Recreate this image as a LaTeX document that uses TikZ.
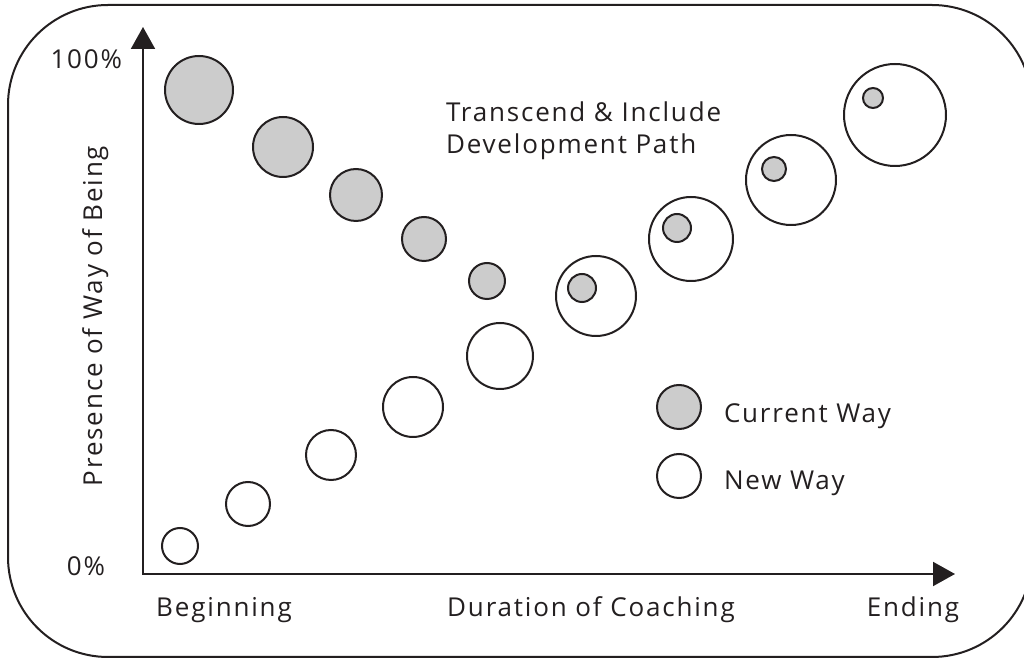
\documentclass[tikz,border=0pt]{standalone}
\usepackage{fontspec}
\setmainfont{Open Sans}[LetterSpace=7]
\usetikzlibrary{arrows.meta}
\definecolor{ink}{RGB}{35,31,32}
\definecolor{shade}{RGB}{204,204,204}
\begin{document}
\begin{tikzpicture}[x=0.5pt, y=0.5pt, ink, line width=1pt,
  cur/.style = {draw, circle, fill=shade, inner sep=0pt, minimum size=#1},
  new/.style = {draw, circle, fill=white, inner sep=0pt, minimum size=#1},
  lbl/.style = {inner sep=0pt, font=\fontsize{13}{16}\selectfont}]
	\useasboundingbox (0,0) rectangle (1024,659);
	\draw[rounded corners=50pt] (8,2) rectangle (1032,654);

	% axes
	\coordinate (o) at (143,85);
	\coordinate (ytip) at (143,632);
	\coordinate (xtip) at (955,85);
	\draw[{Triangle[width=12pt,length=11pt]}-{Triangle[width=12pt,length=11pt]}] (ytip) -- (o) -- (xtip);

	% new way
	\node[new=18pt] (n1) at (180,113) {};
	\node[new=22pt] (n2) at (248,155) {};
	\node[new=25pt] (n3) at (331,204) {};
	\node[new=30pt] (n4) at (413,252) {};
	\node[new=33pt] (n5) at (500,303) {};
	\node[new=40pt] (n6) at (596,363) {};
	\node[new=42pt] (n7) at (691,420) {};
	\node[new=45pt] (n8) at (791,479) {};
	\node[new=51pt] (n9) at (895,544) {};

	% current way
	\node[cur=34pt] (c1) at (199,569) {};
	\node[cur=30pt] (c2) at (283,512) {};
	\node[cur=26pt] (c3) at (356,464) {};
	\node[cur=22pt] (c4) at (424,420) {};
	\node[cur=18pt] (c5) at (487,378) {};
	\node[cur=14pt] (c6) at (582,371) {};
	\node[cur=14pt] (c7) at (677,431) {};
	\node[cur=12pt] (c8) at (774,490) {};
	\node[cur=10pt] (c9) at (873,561) {};

	% legend
	\node[cur=22pt] (kcur) at (679,252) {};
	\node[new=22pt] (knew) at (679,183) {};
	\node[lbl, anchor=base west] (tcur) at (723,236) {Current Way};
	\node[lbl, anchor=base west] (tnew) at (723,169) {New Way};

	% labels
	\node[lbl, anchor=base west] (title) at (445,537) {Transcend \& Include};
	\node[lbl, anchor=base west] (title2) at (445,505) {Development Path};
	\node[lbl, anchor=base east] (top) at (123,590) {100\%};
	\node[lbl, anchor=base east] (bot) at (106,83) {0\%};
	\node[lbl, anchor=base] (begin) at (224,42) {Beginning};
	\node[lbl, anchor=base] (dur) at (591,42) {Duration of Coaching};
	\node[lbl, anchor=base] (end) at (913,42) {Ending};
	\node[lbl, anchor=base, rotate=90] (pres) at (102,343) {Presence of Way of Being};
\end{tikzpicture}
\end{document}
